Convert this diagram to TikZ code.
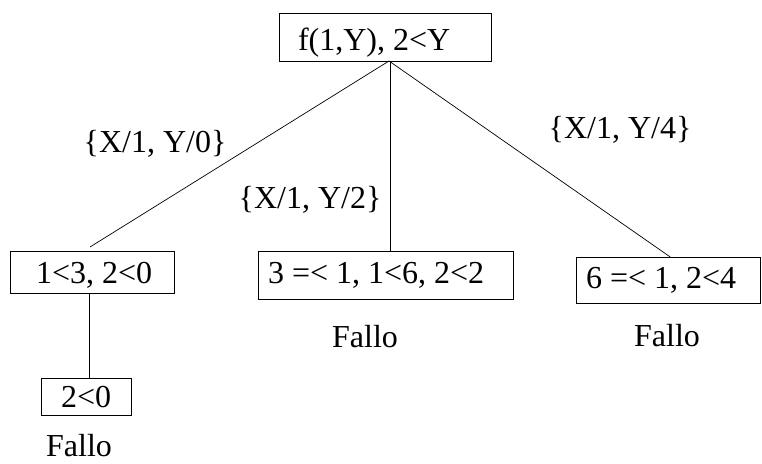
\documentclass[tikz,border=0pt]{standalone}
\usepackage{fontspec}
\setmainfont{Liberation Serif}
\begin{document}
\begin{tikzpicture}[x=1pt,y=-1pt,
  box/.style={draw=black,line width=0.8pt,inner sep=0pt,outer sep=0pt},
  txt/.style={inner sep=0pt,outer sep=0pt,font=\fontsize{32}{38}\selectfont},
  conn/.style={draw=black,line width=0.7pt}]
\useasboundingbox (0,0) rectangle (762,463);
% boxes
\node[box,minimum width=212pt,minimum height=48pt] (top) at (385.5,37) {};
\node[box,minimum width=164pt,minimum height=42pt] (left) at (92,272) {};
\node[box,minimum width=255pt,minimum height=48pt] (mid) at (385.5,275) {};
\node[box,minimum width=184.5pt,minimum height=46pt] (right) at (668.25,280) {};
\node[box,minimum width=90pt,minimum height=37pt] (s2) at (86,396.5) {};
% box texts
\node[txt,anchor=base west] (topT) at (298,50) {f(1,Y), 2<Y};
\node[txt,anchor=base west] (leftT) at (36,283) {1<3, 2<0};
\node[txt,anchor=base west] (midT) at (268,283) {3 =< 1, 1<6, 2<2};
\node[txt,anchor=base west] (rightT) at (586,288) {6 =< 1, 2<4};
\node[txt,anchor=base west] (s2T) at (61,407) {2<0};
% edge labels
\node[txt,anchor=base] (l1) at (155,152) {\{X/1, Y/0\}};
\node[txt,anchor=base] (l2) at (310,208) {\{X/1, Y/2\}};
\node[txt,anchor=base] (l3) at (620,138) {\{X/1, Y/4\}};
% Fallo
\node[txt,anchor=base] (f1) at (79,456) {Fallo};
\node[txt,anchor=base] (f2) at (365,347) {Fallo};
\node[txt,anchor=base] (f3) at (667,346) {Fallo};
% connectors
\coordinate (o) at (389,61);
\draw[conn] (o) -- ([xshift=-2pt,yshift=4pt]left.north);
\draw[conn] ([xshift=1.5pt]o) -- ([xshift=1.5pt]o |- mid.north);
\draw[conn] (o) -- ([xshift=2pt]right.north);
\draw[conn] ([xshift=3pt]s2.north) -- ([xshift=3pt]s2.north |- left.south);
\end{tikzpicture}
\end{document}
